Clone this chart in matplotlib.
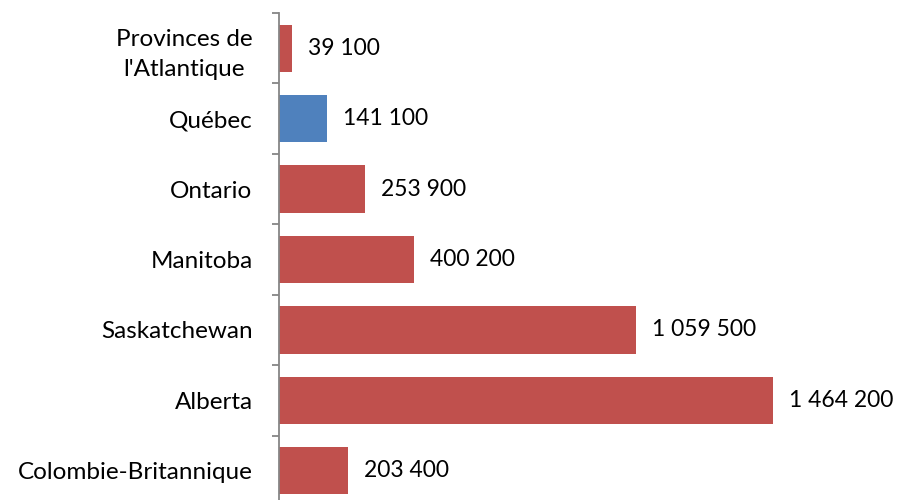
import numpy as np
import matplotlib.pyplot as plt

provinces = ["Provinces de\nl'Atlantique", "Québec", "Ontario", "Manitoba",
             "Saskatchewan", "Alberta", "Colombie-Britannique"]
values = [39100, 141100, 253900, 400200, 1059500, 1464200, 203400]
labels = ["39 100", "141 100", "253 900", "400 200", "1 059 500", "1 464 200", "203 400"]
colors = ['#C0504D', '#4F81BD', '#C0504D', '#C0504D', '#C0504D', '#C0504D', '#C0504D']

plt.rcParams['font.family'] = ['Lato', 'DejaVu Sans']

fig = plt.figure(figsize=(9, 5), dpi=100)
ax = fig.add_axes([0.31, -0.012, 0.69, 0.986])

y = np.arange(len(provinces))
ax.barh(y, values, height=0.67, color=colors)

for yi, v, lab in zip(y, values, labels):
    ax.annotate(lab, (v, yi), xytext=(11.5, 0), textcoords='offset points',
                va='center', ha='left', fontsize=16.5)

ax.set_ylim(len(provinces) - 0.5, -0.5)
ax.set_xlim(0, 1840500)

ax.set_yticks(y)
ax.set_yticklabels(provinces, fontsize=17.5, multialignment='center',
                   linespacing=1.5)
ax.tick_params(axis='y', which='major', length=0, pad=19)
ax.set_yticks(np.arange(len(provinces) + 1) - 0.5, minor=True)
ax.tick_params(axis='y', which='minor', length=5, width=1.3, color='#868686')

ax.set_xticks([])
for s in ['top', 'right', 'bottom']:
    ax.spines[s].set_visible(False)
ax.spines['left'].set_color('#868686')
ax.spines['left'].set_linewidth(1.3)

fig.savefig('out.png', dpi=100)
